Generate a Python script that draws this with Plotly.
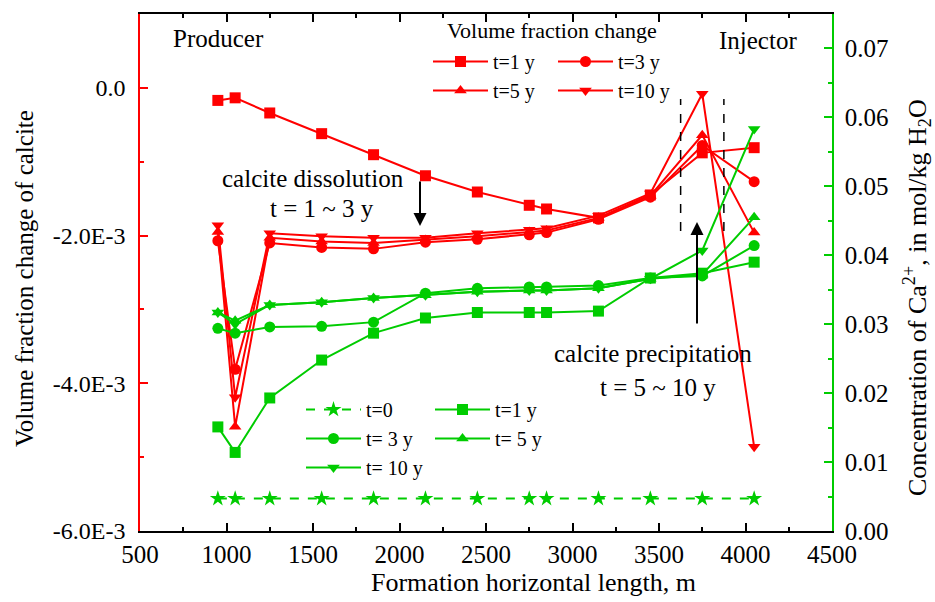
import plotly.graph_objects as go

# ---------------- data ----------------
x_pos = [950, 1050, 1250, 1550, 1850, 2150, 2450, 2750, 2850, 3150, 3450, 3750, 4050]

# volume fraction change of calcite (left axis)
vf_t1 = [-0.17e-3, -0.135e-3, -0.34e-3, -0.62e-3, -0.905e-3, -1.19e-3, -1.41e-3,
         -1.59e-3, -1.64e-3, -1.76e-3, -1.45e-3, -0.88e-3, -0.81e-3]
vf_t3 = [-2.07e-3, -3.81e-3, -2.10e-3, -2.16e-3, -2.18e-3, -2.09e-3, -2.05e-3,
         -1.99e-3, -1.96e-3, -1.78e-3, -1.48e-3, -0.78e-3, -1.27e-3]
vf_t5 = [-1.95e-3, -4.59e-3, -2.03e-3, -2.08e-3, -2.10e-3, -2.06e-3, -2.01e-3,
         -1.95e-3, -1.93e-3, -1.76e-3, -1.46e-3, -0.64e-3, -1.96e-3]
vf_t10 = [-1.86e-3, -4.19e-3, -1.97e-3, -2.01e-3, -2.03e-3, -2.03e-3, -1.97e-3,
          -1.92e-3, -1.90e-3, -1.73e-3, -1.43e-3, -0.08e-3, -4.86e-3]

# Ca2+ concentration (right axis)
ca_t0 = [0.0047] * 13
ca_t1 = [0.0151, 0.0114, 0.0193, 0.0248, 0.0287, 0.0309, 0.0317,
         0.0317, 0.0317, 0.0319, 0.0367, 0.0374, 0.0390]
ca_t3 = [0.0294, 0.0287, 0.0296, 0.0297, 0.0303, 0.0345, 0.0352,
         0.0354, 0.0354, 0.0356, 0.0367, 0.0370, 0.0414]
ca_t5 = [0.0317, 0.0305, 0.0328, 0.0332, 0.0338, 0.0342, 0.0347,
         0.0349, 0.0349, 0.0352, 0.0366, 0.0372, 0.0455]
ca_t10 = [0.0317, 0.0300, 0.0328, 0.0332, 0.0338, 0.0342, 0.0347,
          0.0349, 0.0349, 0.0352, 0.0366, 0.0407, 0.0583]

x_ticks = [500, 1000, 1500, 2000, 2500, 3000, 3500, 4000, 4500]
y1_ticks = [0.0, -2.0e-3, -4.0e-3, -6.0e-3]
y1_labels = ["0.0", "-2.0E-3", "-4.0E-3", "-6.0E-3"]
y1_minor = [1e-3, -1e-3, -3e-3, -5e-3]
y2_ticks = [0.00, 0.01, 0.02, 0.03, 0.04, 0.05, 0.06, 0.07]
y2_labels = ["0.00", "0.01", "0.02", "0.03", "0.04", "0.05", "0.06", "0.07"]

RED = "#FF0000"
GREEN = "#00CC00"
FONT = "Liberation Serif, Times New Roman, serif"

fig = go.Figure()

red_series = [
    ("t=1 y", vf_t1, "square", "legend"),
    ("t=5 y", vf_t5, "triangle-up", "legend"),
    ("t=3 y", vf_t3, "circle", "legend2"),
    ("t=10 y", vf_t10, "triangle-down", "legend2"),
]
for name, vals, sym, lg in red_series:
    fig.add_trace(go.Scatter(
        x=x_pos, y=vals, name=name, mode="lines+markers",
        line=dict(color=RED, width=2),
        marker=dict(symbol=sym, size=11, color=RED),
        legend=lg, legendgroup=name, yaxis="y"))

green_series = [
    ("t=0", ca_t0, "star", "legend3", "dash"),
    ("t= 3 y", ca_t3, "circle", "legend3", "solid"),
    ("t= 10 y", ca_t10, "triangle-down", "legend3", "solid"),
    ("t=1 y", ca_t1, "square", "legend4", "solid"),
    ("t= 5 y", ca_t5, "triangle-up", "legend4", "solid"),
]
for name, vals, sym, lg, dash in green_series:
    fig.add_trace(go.Scatter(
        x=x_pos, y=vals, name=name, mode="lines+markers",
        line=dict(color=GREEN, width=2, dash=dash),
        marker=dict(symbol=sym, size=11 if sym != "star" else 12, color=GREEN),
        legend=lg, legendgroup="g" + name, yaxis="y2"))

L, R, T, B = 140, 103, 14, 71
W, H = 935, 602
PW, PH = W - L - R, H - T - B


def px(xp):
    return (xp - L) / PW


def py(yp):
    return (H - B - yp) / PH


def leg(xp, yp, fs):
    return dict(x=px(xp), y=py(yp), font=dict(family=FONT, size=fs, color="black"),
                bgcolor="rgba(0,0,0,0)", itemwidth=55, tracegroupgap=0,
                xanchor="left", yanchor="top", traceorder="grouped")


fig.update_layout(
    width=W, height=H,
    margin=dict(l=L, r=R, t=T, b=B),
    paper_bgcolor="white", plot_bgcolor="white",
    font=dict(family=FONT, size=25, color="black"),
    legend=leg(428, 42, 20),
    legend2=leg(553, 42, 20),
    legend3=leg(301, 390, 20),
    legend4=leg(430, 390, 20),
    xaxis=dict(range=[500, 4500], tickmode="array", tickvals=x_ticks,
               ticks="inside", ticklen=8, tickwidth=1.5, tickcolor="black",
               showline=True, linecolor="black", linewidth=1.5, mirror="ticks",
               showgrid=False, zeroline=False,
               minor=dict(ticks="inside", ticklen=4, tickwidth=1.5, dtick=250,
                          tick0=500, tickcolor="black", showgrid=False),
               tickfont=dict(family=FONT, size=25)),
    yaxis=dict(range=[-6e-3, 1e-3], tickmode="array", tickvals=y1_ticks,
               ticktext=y1_labels, ticks="inside", ticklen=8, tickwidth=1.5,
               tickcolor=RED, showline=True, linecolor=RED, linewidth=1.5,
               showgrid=False, zeroline=False, ticklabelstandoff=8,
               minor=dict(ticks="inside", ticklen=4, tickwidth=1.5,
                          tickmode="array", tickvals=y1_minor, tickcolor=RED,
                          showgrid=False),
               tickfont=dict(family=FONT, size=24)),
    yaxis2=dict(range=[0, 0.075], overlaying="y", side="right",
                tickmode="array", tickvals=y2_ticks, ticktext=y2_labels,
                ticks="inside", ticklen=8, tickwidth=1.5, tickcolor=GREEN,
                showline=True, linecolor=GREEN, linewidth=1.5,
                showgrid=False, zeroline=False, ticklabelstandoff=6,
                minor=dict(ticks="inside", ticklen=4, tickwidth=1.5,
                           dtick=0.005, tick0=0, tickcolor=GREEN, showgrid=False),
                tickfont=dict(family=FONT, size=25)),
)

texts = [
    ("Producer", 218, 38, 25, 0),
    ("Injector", 758, 40, 25, 0),
    ("Volume fraction change", 552, 30, 22, 0),
    ("calcite dissolution", 313, 178, 25, 0),
    ("t = 1 ~ 3 y", 322, 208, 25, 0),
    ("calcite precipitation", 653, 353, 25, 0),
    ("t = 5 ~ 10 y", 658, 387, 25, 0),
    ("Formation horizontal length, m", 533, 582, 26, 0),
    ("Volume fraction change of calcite", 24, 279, 25, -90),
    ("Concentration of Ca<sup>2+</sup>, in mol/kg H<sub>2</sub>O", 917, 298, 26, -90),
]
for t, xx, yy, fs, ang in texts:
    fig.add_annotation(text=t, x=px(xx), y=py(yy), xref="paper", yref="paper",
                       showarrow=False, xanchor="center", yanchor="middle",
                       textangle=ang,
                       font=dict(family=FONT, size=fs, color="black"))

# arrows
fig.add_annotation(x=px(420), y=py(226), xref="paper", yref="paper", text="",
                   showarrow=True, ax=0, ay=-46, arrowhead=2, arrowsize=1.3,
                   arrowwidth=2, arrowcolor="black")
fig.add_annotation(x=px(697), y=py(222), xref="paper", yref="paper", text="",
                   showarrow=True, ax=0, ay=103, arrowhead=2, arrowsize=1.3,
                   arrowwidth=2, arrowcolor="black")

# dashed boundary lines
for xv in [3625, 3875]:
    fig.add_shape(type="line", x0=xv, x1=xv, xref="x", yref="paper",
                  y0=py(231), y1=py(99),
                  line=dict(color="black", width=1.5, dash="dash"))

fig.write_html("out.html")
